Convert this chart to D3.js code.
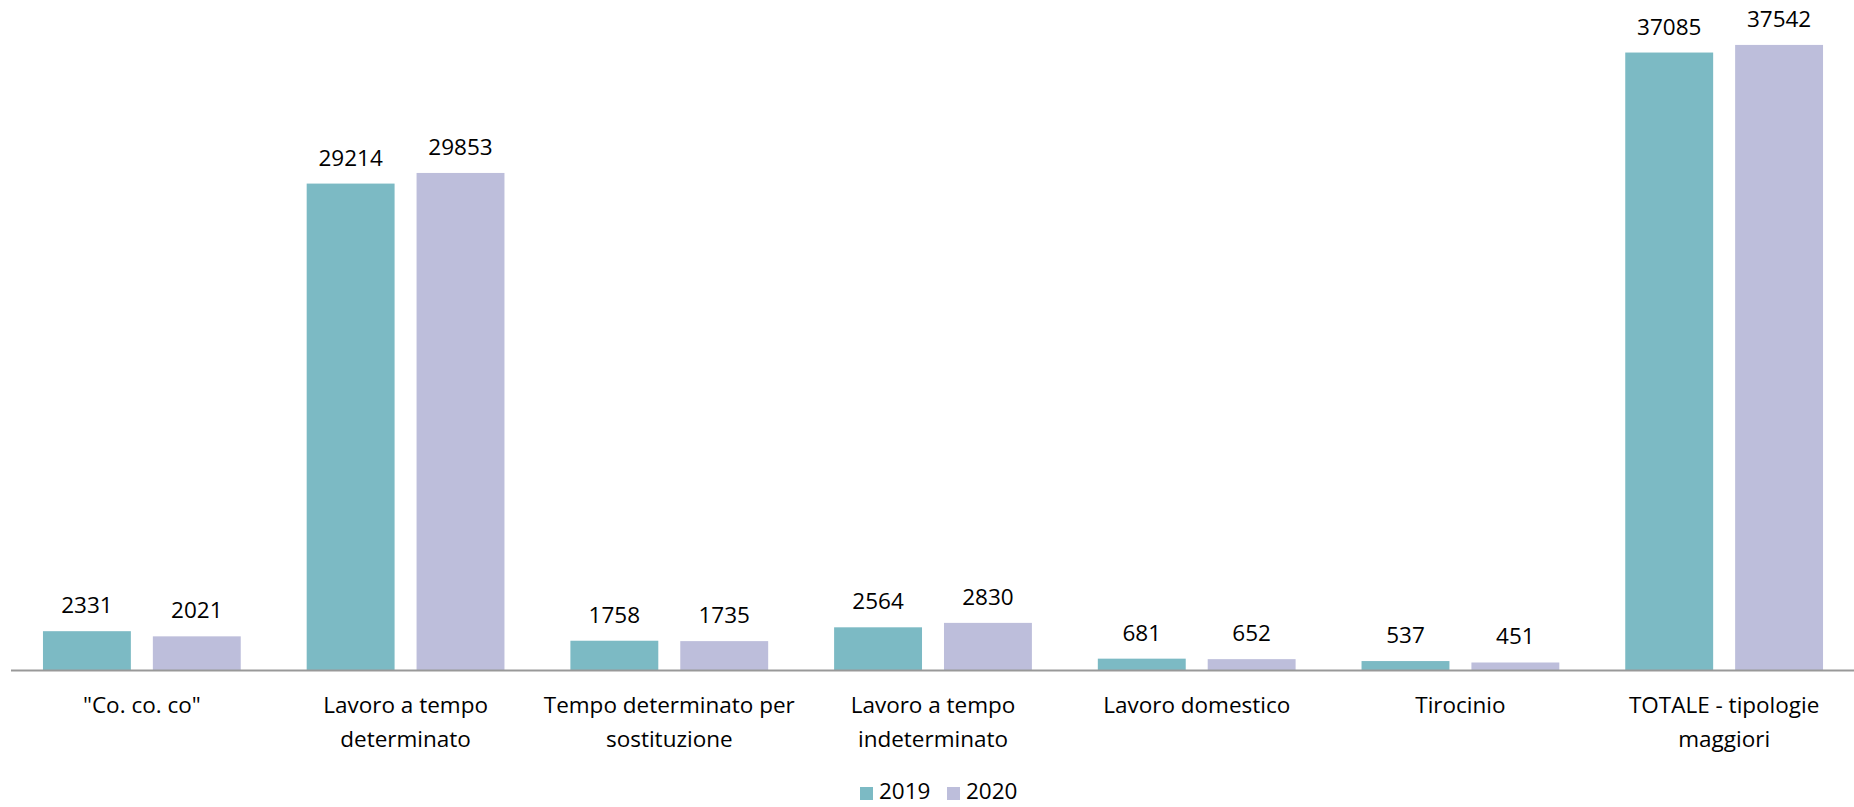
<!DOCTYPE html>
<html>
<head>
<meta charset="utf-8">
<script src="https://cdn.jsdelivr.net/npm/d3@7"></script>
<style>
  body { margin: 0; background: #fff; }
  text { font-family: "Open Sans", sans-serif; fill: #000; }
</style>
</head>
<body>
<div id="container"></div>
<script>
const WIDTH = 1854;
const HEIGHT = 807;
const FONT = 22.5;

const categories = [
  ['"Co. co. co"'],
  ['Lavoro a tempo', 'determinato'],
  ['Tempo determinato per', 'sostituzione'],
  ['Lavoro a tempo', 'indeterminato'],
  ['Lavoro domestico'],
  ['Tirocinio'],
  ['TOTALE - tipologie', 'maggiori']
];
const years = ['2019', '2020'];
const values2019 = [2331, 29214, 1758, 2564, 681, 537, 37085];
const values2020 = [2021, 29853, 1735, 2830, 652, 451, 37542];
const colors = ['#7cbac4', '#bdbedb'];

const rows = categories.map((c, i) => ({
  key: i,
  lines: c,
  vals: [values2019[i], values2020[i]]
}));

const svg = d3.select('#container')
              .append('svg')
                .attr('width', WIDTH)
                .attr('height', HEIGHT);

const baseY = 670;

const x0 = d3.scaleBand()
             .domain(rows.map(d => d.key))
             .range([10, 1856])
             .paddingInner(0.25)
             .paddingOuter(0.125);

const x1 = d3.scaleBand()
             .domain(years)
             .range([0, x0.bandwidth()])
             .paddingInner(0.2);

const y = d3.scaleLinear()
            .domain([0, 40000])
            .range([baseY, 4]);

const groups = svg.selectAll('g.cat')
                  .data(rows)
                  .enter()
                  .append('g')
                    .attr('class', 'cat')
                    .attr('transform', d => `translate(${x0(d.key)}, 0)`);

groups.selectAll('rect')
      .data(d => d.vals.map((v, j) => ({ year: years[j], v: v, j: j })))
      .enter()
      .append('rect')
        .attr('x', d => x1(d.year))
        .attr('y', d => y(d.v))
        .attr('width', x1.bandwidth())
        .attr('height', d => baseY - y(d.v))
        .attr('fill', d => colors[d.j]);

groups.selectAll('text.val')
      .data(d => d.vals.map((v, j) => ({ year: years[j], v: v })))
      .enter()
      .append('text')
        .attr('class', 'val')
        .attr('x', d => x1(d.year) + x1.bandwidth() / 2)
        .attr('y', d => y(d.v) - 18)
        .attr('text-anchor', 'middle')
        .attr('font-size', FONT)
        .text(d => d.v);

// baseline
svg.append('line')
   .attr('x1', 11)
   .attr('x2', WIDTH)
   .attr('y1', baseY + 0.5)
   .attr('y2', baseY + 0.5)
   .attr('stroke', '#999')
   .attr('stroke-width', 2);

// category labels
const labels = groups.append('text')
                     .attr('text-anchor', 'middle')
                     .attr('font-size', FONT)
                     .attr('transform', `translate(${x0.bandwidth() / 2}, 713)`);

labels.selectAll('tspan')
      .data(d => d.lines)
      .enter()
      .append('tspan')
        .attr('x', 0)
        .attr('y', (d, i) => i * 34)
        .text(d => d);

// legend
const legend = svg.append('g')
                  .attr('transform', 'translate(860, 787)');

const legItems = legend.selectAll('g')
                       .data(years)
                       .enter()
                       .append('g')
                         .attr('transform', (d, i) => `translate(${i * 87}, 0)`);

legItems.append('rect')
        .attr('width', 13)
        .attr('height', 13)
        .attr('fill', (d, i) => colors[i]);

legItems.append('text')
        .attr('x', 19)
        .attr('y', 12)
        .attr('font-size', FONT)
        .text(d => d);
</script>
</body>
</html>
